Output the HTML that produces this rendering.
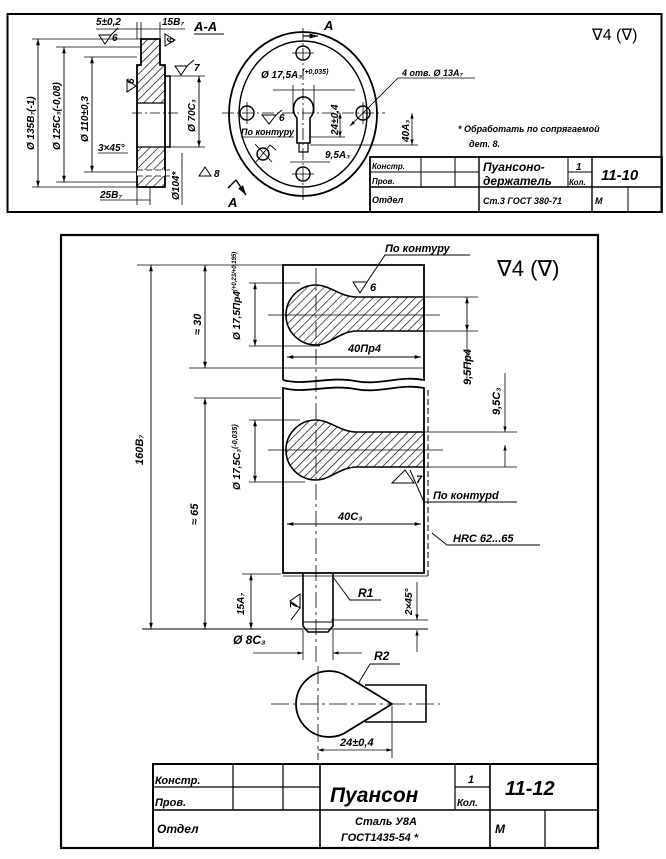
<!DOCTYPE html>
<html><head><meta charset="utf-8"><style>
html,body{margin:0;padding:0;background:#fff;}
svg text{font-family:"Liberation Sans","DejaVu Sans",sans-serif;font-style:italic;font-weight:bold;fill:#000;}
svg text.n{font-style:normal;font-weight:normal;}
</style></head><body>
<svg width="666" height="854" viewBox="0 0 666 854" xmlns="http://www.w3.org/2000/svg">
<defs>
<pattern id="h" width="6" height="6" patternUnits="userSpaceOnUse" patternTransform="rotate(45)">
<line x1="0" y1="0" x2="0" y2="6" stroke="#000" stroke-width="1.3"/>
</pattern>
<marker id="a" viewBox="0 0 10 10" refX="10" refY="5" markerWidth="7" markerHeight="7" orient="auto-start-reverse"><path d="M0,2 L10,5 L0,8 Z" fill="#000"/></marker>
</defs>
<g fill="none" stroke="#000">
<rect x="7.5" y="14" width="654" height="198" stroke-width="2"/>
<path d="M141 39 H160 V65 H165 V187 H137 V65 H141 Z" stroke-width="1.8"/>
<rect x="141" y="39" width="19" height="26" fill="url(#h)" stroke="none"/>
<rect x="137" y="65" width="28" height="38" fill="url(#h)" stroke="none"/>
<rect x="137" y="147" width="28" height="40" fill="url(#h)" stroke="none"/>
<rect x="137" y="170" width="28" height="6" fill="#fff" stroke="none"/>
<line x1="137" y1="103" x2="165" y2="103" stroke-width="1.2"/>
<line x1="137" y1="147" x2="165" y2="147" stroke-width="1.2"/>
<path d="M165 76 H170 V147 H165" stroke-width="1.5"/>
<line x1="132" y1="113" x2="180" y2="113" stroke-width="0.8" stroke-dasharray="10 3 2 3"/>
<line x1="137" y1="170" x2="170" y2="170" stroke-width="0.8" stroke-dasharray="6 3"/>
<line x1="137" y1="176" x2="170" y2="176" stroke-width="0.8" stroke-dasharray="6 3"/>
<line x1="38" y1="39" x2="38" y2="187" stroke-width="0.9" marker-start="url(#a)" marker-end="url(#a)"/>
<line x1="64" y1="47" x2="64" y2="182" stroke-width="0.9" marker-start="url(#a)" marker-end="url(#a)"/>
<line x1="92" y1="57" x2="92" y2="172" stroke-width="0.9" marker-start="url(#a)" marker-end="url(#a)"/>
<line x1="32" y1="39" x2="141" y2="39" stroke-width="0.8"/>
<line x1="56" y1="47" x2="141" y2="47" stroke-width="0.8"/>
<line x1="84" y1="57" x2="137" y2="57" stroke-width="0.8"/>
<line x1="84" y1="172" x2="137" y2="172" stroke-width="0.8"/>
<line x1="56" y1="182" x2="137" y2="182" stroke-width="0.8"/>
<line x1="32" y1="187" x2="137" y2="187" stroke-width="0.8"/>
<line x1="199" y1="76" x2="199" y2="147" stroke-width="0.9" marker-start="url(#a)" marker-end="url(#a)"/>
<line x1="170" y1="76" x2="205" y2="76" stroke-width="0.8"/>
<line x1="170" y1="147" x2="205" y2="147" stroke-width="0.8"/>
<line x1="96" y1="29" x2="185" y2="29" stroke-width="0.8"/>
<line x1="137" y1="22" x2="137" y2="39" stroke-width="0.8"/>
<line x1="141" y1="22" x2="141" y2="39" stroke-width="0.8"/>
<line x1="160" y1="22" x2="160" y2="39" stroke-width="0.8"/>
<line x1="100" y1="200" x2="150" y2="200" stroke-width="0.8"/>
<line x1="137" y1="187" x2="137" y2="205" stroke-width="0.8"/>
<line x1="150" y1="187" x2="150" y2="205" stroke-width="0.8"/>
<line x1="182" y1="153" x2="182" y2="205" stroke-width="0.8"/>
<line x1="98" y1="153" x2="128" y2="153" stroke-width="0.8"/>
<line x1="194" y1="34" x2="224" y2="34" stroke-width="1"/>
<path d="M99 35 L111 35 L105 44 Z M111 35 L118 28" stroke-width="1"/>
<path d="M175 66 L187 66 L181 75 Z M187 66 L194 60" stroke-width="1"/>
<path d="M127 80 L127 92 L136 86 Z" stroke-width="1"/>
<path d="M165 34 L165 46 L175 40 Z" stroke-width="1"/>
<path d="M199 176 L211 176 L205 167 Z" stroke-width="1"/>
<ellipse cx="303" cy="114" rx="74" ry="82" stroke-width="1.8"/>
<ellipse cx="303" cy="114" rx="64" ry="73" stroke-width="1.4"/>
<circle cx="303" cy="53" r="7" stroke-width="1.4"/>
<circle cx="303" cy="174" r="7" stroke-width="1.4"/>
<circle cx="247" cy="113" r="7" stroke-width="1.4"/>
<circle cx="363" cy="113" r="7" stroke-width="1.4"/>
<circle cx="263" cy="154" r="6" stroke-width="1.4"/>
<path d="M255 144 L272 162 M256 162 L270 145 L276 150" stroke-width="0.9"/>
<line x1="303" y1="28" x2="303" y2="200" stroke-width="0.8" stroke-dasharray="12 3 2 3"/>
<line x1="222" y1="113" x2="385" y2="113" stroke-width="0.8" stroke-dasharray="12 3 2 3"/>
<line x1="292" y1="53" x2="314" y2="53" stroke-width="0.8"/>
<line x1="292" y1="174" x2="314" y2="174" stroke-width="0.8"/>
<line x1="363" y1="102" x2="363" y2="124" stroke-width="0.8"/>
<line x1="247" y1="102" x2="247" y2="124" stroke-width="0.8"/>
<path d="M297 143 V118 A10 12 0 1 1 310 118 V143 Z" stroke-width="1.6"/>
<path d="M299 143 V152 H308 V143" stroke-width="1.2"/>
<line x1="273" y1="90" x2="355" y2="90" stroke-width="0.8"/>
<line x1="293" y1="85" x2="293" y2="113" stroke-width="0.8"/>
<line x1="314" y1="85" x2="314" y2="113" stroke-width="0.8"/>
<line x1="340" y1="113" x2="340" y2="137" stroke-width="0.8" marker-start="url(#a)" marker-end="url(#a)"/>
<line x1="412" y1="113" x2="412" y2="145" stroke-width="0.8" marker-start="url(#a)" marker-end="url(#a)"/>
<line x1="310" y1="145" x2="418" y2="145" stroke-width="0.8"/>
<line x1="310" y1="137" x2="345" y2="137" stroke-width="0.8"/>
<line x1="290" y1="162" x2="330" y2="162" stroke-width="0.8"/>
<line x1="398" y1="78" x2="350" y2="126" stroke-width="0.8" marker-end="url(#a)"/>
<line x1="398" y1="78" x2="475" y2="78" stroke-width="0.8"/>
<path d="M262 115 L276 115 L269 124 Z M276 115 L282 110" stroke-width="1"/>
<line x1="241" y1="137" x2="294" y2="137" stroke-width="0.8"/>
<path d="M303 36 H318" stroke-width="1.2" marker-end="url(#a)"/>
<path d="M236 180 L246 195" stroke-width="1.4" marker-end="url(#a)"/>
<path d="M236 180 L228 188" stroke-width="1.4"/>
<rect x="370" y="157" width="292" height="55" stroke-width="1.8"/>
<line x1="370" y1="187" x2="662" y2="187" stroke-width="1.4"/>
<line x1="370" y1="172" x2="479" y2="172" stroke-width="1"/>
<line x1="568" y1="172" x2="592" y2="172" stroke-width="1"/>
<line x1="421" y1="157" x2="421" y2="187" stroke-width="1"/>
<line x1="455" y1="157" x2="455" y2="187" stroke-width="1"/>
<line x1="479" y1="157" x2="479" y2="212" stroke-width="1.4"/>
<line x1="568" y1="157" x2="568" y2="187" stroke-width="1"/>
<line x1="592" y1="157" x2="592" y2="212" stroke-width="1.4"/>
<line x1="628" y1="187" x2="628" y2="212" stroke-width="1"/>

<rect x="61" y="235" width="537" height="613" stroke-width="2.2"/>
<path d="M283 380 V265 H424 V380 C400 375, 380 386, 355 381 C330 376, 305 386, 283 380" stroke-width="1.8"/>
<path d="M424 297 L357 297 C340 297,330 285,316 285 A30 30 0 1 0 316 345 C330 345,340 331,357 331 L424 331 Z" fill="url(#h)" stroke-width="1.6"/>
<path d="M283 573 V388 C305 394, 330 384, 355 389 C380 394, 400 383, 424 388 V573 Z" stroke-width="1.8"/>
<path d="M424 432 L357 432 C340 432,330 420,316 420 A30 30 0 1 0 316 480 C330 480,340 467,357 467 L424 467 Z" fill="url(#h)" stroke-width="1.6"/>
<line x1="428" y1="390" x2="428" y2="576" stroke-width="1" stroke-dasharray="6 3"/>
<line x1="428" y1="576" x2="283" y2="576" stroke-width="0.8"/>
<line x1="316" y1="268" x2="316" y2="665" stroke-width="0.8" stroke-dasharray="16 4 3 4"/>
<line x1="268" y1="315" x2="440" y2="315" stroke-width="0.8"/>
<line x1="268" y1="450" x2="443" y2="450" stroke-width="0.8"/>
<path d="M303 573 V626 L308 632 H328 L333 626 V573" stroke-width="1.6"/>
<line x1="303" y1="622" x2="333" y2="622" stroke-width="1"/>
<line x1="137" y1="265" x2="283" y2="265" stroke-width="0.8"/>
<line x1="151" y1="265" x2="151" y2="629" stroke-width="0.9" marker-start="url(#a)" marker-end="url(#a)"/>
<line x1="205" y1="265" x2="205" y2="368" stroke-width="0.9" marker-start="url(#a)" marker-end="url(#a)"/>
<line x1="189" y1="368" x2="424" y2="368" stroke-width="0.8"/>
<line x1="249" y1="283" x2="300" y2="283" stroke-width="0.8"/>
<line x1="249" y1="346" x2="320" y2="346" stroke-width="0.8"/>
<line x1="255" y1="283" x2="255" y2="346" stroke-width="0.9" marker-start="url(#a)" marker-end="url(#a)"/>
<line x1="287" y1="357" x2="421" y2="357" stroke-width="0.9" marker-start="url(#a)" marker-end="url(#a)"/>
<line x1="424" y1="297" x2="478" y2="297" stroke-width="0.8"/>
<line x1="424" y1="331" x2="478" y2="331" stroke-width="0.8"/>
<line x1="467" y1="297" x2="467" y2="331" stroke-width="0.9" marker-start="url(#a)" marker-end="url(#a)"/>
<line x1="467" y1="331" x2="467" y2="382" stroke-width="0.8"/>
<line x1="424" y1="432" x2="517" y2="432" stroke-width="0.8"/>
<line x1="424" y1="467" x2="517" y2="467" stroke-width="0.8"/>
<line x1="505" y1="373" x2="505" y2="432" stroke-width="0.8" marker-end="url(#a)"/>
<line x1="505" y1="467" x2="505" y2="445" stroke-width="0.8" marker-end="url(#a)"/>
<line x1="194" y1="398" x2="281" y2="398" stroke-width="0.8"/>
<line x1="205" y1="398" x2="205" y2="629" stroke-width="0.9" marker-start="url(#a)" marker-end="url(#a)"/>
<line x1="249" y1="420" x2="300" y2="420" stroke-width="0.8"/>
<line x1="249" y1="482" x2="305" y2="482" stroke-width="0.8"/>
<line x1="255" y1="420" x2="255" y2="482" stroke-width="0.9" marker-start="url(#a)" marker-end="url(#a)"/>
<line x1="287" y1="524" x2="421" y2="524" stroke-width="0.9" marker-start="url(#a)" marker-end="url(#a)"/>
<line x1="242" y1="574" x2="281" y2="574" stroke-width="0.8"/>
<line x1="142" y1="629" x2="428" y2="629" stroke-width="0.9"/>
<line x1="251" y1="574" x2="251" y2="629" stroke-width="0.9" marker-start="url(#a)" marker-end="url(#a)"/>
<line x1="331" y1="620" x2="428" y2="620" stroke-width="0.8"/>
<line x1="417" y1="582" x2="417" y2="620" stroke-width="0.8" marker-end="url(#a)"/>
<line x1="417" y1="652" x2="417" y2="630" stroke-width="0.8" marker-end="url(#a)"/>
<line x1="303" y1="630" x2="303" y2="660" stroke-width="0.8"/>
<line x1="333" y1="630" x2="333" y2="660" stroke-width="0.8"/>
<line x1="253" y1="653" x2="303" y2="653" stroke-width="0.8" marker-end="url(#a)"/>
<line x1="362" y1="653" x2="333" y2="653" stroke-width="0.8" marker-end="url(#a)"/>
<path d="M353 282 L367 282 L360 293 Z M367 282 L385 255 H470" stroke-width="1"/>
<path d="M392 483 L414 483 L405 470 Z M410 470 L424 502 H517" stroke-width="1"/>
<path d="M432 533 L447 545 H540" stroke-width="0.9"/>
<path d="M300 594 L300 608 L290 601 Z M300 608 L291 620" stroke-width="1"/>
<path d="M333 577 L350 600 H381" stroke-width="0.9"/>
<path d="M392 704 L348 677 A33 33 0 1 0 348 731 Z" stroke-width="1.8"/>
<path d="M365 685 H426 V722 H365" stroke-width="1.6"/>
<line x1="271" y1="704" x2="440" y2="704" stroke-width="0.8" stroke-dasharray="18 4 3 4"/>
<line x1="318" y1="666" x2="318" y2="760" stroke-width="0.8" stroke-dasharray="18 4 3 4"/>
<path d="M358 684 L370 664 H400" stroke-width="0.9"/>
<line x1="392" y1="706" x2="392" y2="758" stroke-width="0.8"/>
<line x1="318" y1="750" x2="392" y2="750" stroke-width="0.8" marker-start="url(#a)" marker-end="url(#a)"/>
<rect x="153" y="764" width="445" height="84" stroke-width="2"/>
<line x1="153" y1="810" x2="598" y2="810" stroke-width="1.6"/>
<line x1="153" y1="787" x2="320" y2="787" stroke-width="1.2"/>
<line x1="455" y1="787" x2="490" y2="787" stroke-width="1.2"/>
<line x1="233" y1="764" x2="233" y2="810" stroke-width="1.2"/>
<line x1="283" y1="764" x2="283" y2="810" stroke-width="1.2"/>
<line x1="320" y1="764" x2="320" y2="848" stroke-width="1.6"/>
<line x1="455" y1="764" x2="455" y2="810" stroke-width="1.2"/>
<line x1="490" y1="764" x2="490" y2="848" stroke-width="1.6"/>
<line x1="545" y1="810" x2="545" y2="848" stroke-width="1.2"/>
</g>

<g font-size="10">
<text x="96" y="25">5±0,2</text>
<text x="162" y="25">15B₇</text>
<text x="194" y="31" font-size="13">A-A</text>
<text x="112" y="41">6</text>
<text x="194" y="71">7</text>
<text x="174" y="43" transform="rotate(-90 174 43)">6</text>
<text x="134" y="84" transform="rotate(-90 134 84)">6</text>
<text x="34" y="150" transform="rotate(-90 34 150)">Ø 135B₇(-1)</text>
<text x="60" y="150" transform="rotate(-90 60 150)">Ø 125C₃(-0,08)</text>
<text x="88" y="142" transform="rotate(-90 88 142)">Ø 110±0,3</text>
<text x="195" y="132" transform="rotate(-90 195 132)">Ø 70C₃</text>
<text x="98" y="151">3×45°</text>
<text x="214" y="177">8</text>
<text x="179" y="200" transform="rotate(-90 179 200)">Ø104*</text>
<text x="100" y="198">25B₇</text>
<text x="324" y="30" font-size="13">A</text>
<text x="228" y="207" font-size="13">A</text>
<text x="261" y="78">Ø 17,5A₃<tspan font-size="7" dy="-4">(+0,035)</tspan></text>
<text x="402" y="76" font-size="9">4 отв. Ø 13A₇</text>
<text x="279" y="121">6</text>
<text x="241" y="135" font-size="9">По контуру</text>
<text x="338" y="135" transform="rotate(-90 338 135)">24±0,4</text>
<text x="409" y="142" transform="rotate(-90 409 142)">40A₃</text>
<text x="325" y="158">9,5A₃</text>
<text x="458" y="132" font-size="9">*  Обработать по сопрягаемой</text>
<text x="469" y="147" font-size="9">дет. 8.</text>
<text class="n" x="592" y="40" font-size="16">∇4 (∇)</text>
<text x="372" y="169" font-size="8">Констр.</text>
<text x="372" y="184" font-size="8">Пров.</text>
<text x="372" y="203" font-size="9">Отдел</text>
<text x="483" y="171" font-size="12">Пуансоно-</text>
<text x="483" y="185" font-size="12">держатель</text>
<text x="576" y="170">1</text>
<text x="569" y="185" font-size="8">Кол.</text>
<text x="601" y="180" font-size="15">11-10</text>
<text x="483" y="204" font-size="9">Ст.3 ГОСТ 380-71</text>
<text x="595" y="204" font-size="9">M</text>

<text x="385" y="252" font-size="11">По контуру</text>
<text x="370" y="291" font-size="11">6</text>
<text class="n" x="497" y="276" font-size="22">∇4 (∇)</text>
<text x="143" y="465" font-size="11" transform="rotate(-90 143 465)">160B₇</text>
<text x="201" y="335" font-size="11" transform="rotate(-90 201 335)">≈ 30</text>
<text x="240" y="340" font-size="10" transform="rotate(-90 240 340)">Ø 17,5Пр4<tspan font-size="6" dy="-4">(+0,23/+0,195)</tspan></text>
<text x="348" y="352" font-size="11">40Пр4</text>
<text x="471" y="385" font-size="11" transform="rotate(-90 471 385)">9,5Пр4</text>
<text x="500" y="415" font-size="11" transform="rotate(-90 500 415)">9,5C₃</text>
<text x="198" y="525" font-size="11" transform="rotate(-90 198 525)">≈ 65</text>
<text x="240" y="490" font-size="10" transform="rotate(-90 240 490)">Ø 17,5C₃<tspan font-size="7" dy="-3">(-0,035)</tspan></text>
<text x="416" y="483" font-size="11">7</text>
<text x="433" y="499" font-size="11">По контурd</text>
<text x="338" y="520" font-size="11">40C₃</text>
<text x="453" y="542" font-size="11">HRC 62...65</text>
<text x="244" y="615" font-size="10" transform="rotate(-90 244 615)">15A₇</text>
<text x="297" y="608" font-size="10" transform="rotate(-90 297 608)">7</text>
<text x="358" y="597" font-size="12">R1</text>
<text x="412" y="615" font-size="10" transform="rotate(-90 412 615)">2×45°</text>
<text x="233" y="644" font-size="12">Ø 8C₃</text>
<text x="374" y="660" font-size="12">R2</text>
<text x="340" y="746" font-size="11">24±0,4</text>
<text x="155" y="784" font-size="11">Констр.</text>
<text x="155" y="806" font-size="11">Пров.</text>
<text x="157" y="833" font-size="12">Отдел</text>
<text x="330" y="802" font-size="21">Пуансон</text>
<text x="468" y="783" font-size="11">1</text>
<text x="457" y="806" font-size="10">Кол.</text>
<text x="505" y="795" font-size="20">11-12</text>
<text x="355" y="825" font-size="11">Сталь У8А</text>
<text x="341" y="841" font-size="11">ГОСТ1435-54 *</text>
<text x="495" y="833" font-size="12">M</text>
</g>
</svg>
</body></html>
